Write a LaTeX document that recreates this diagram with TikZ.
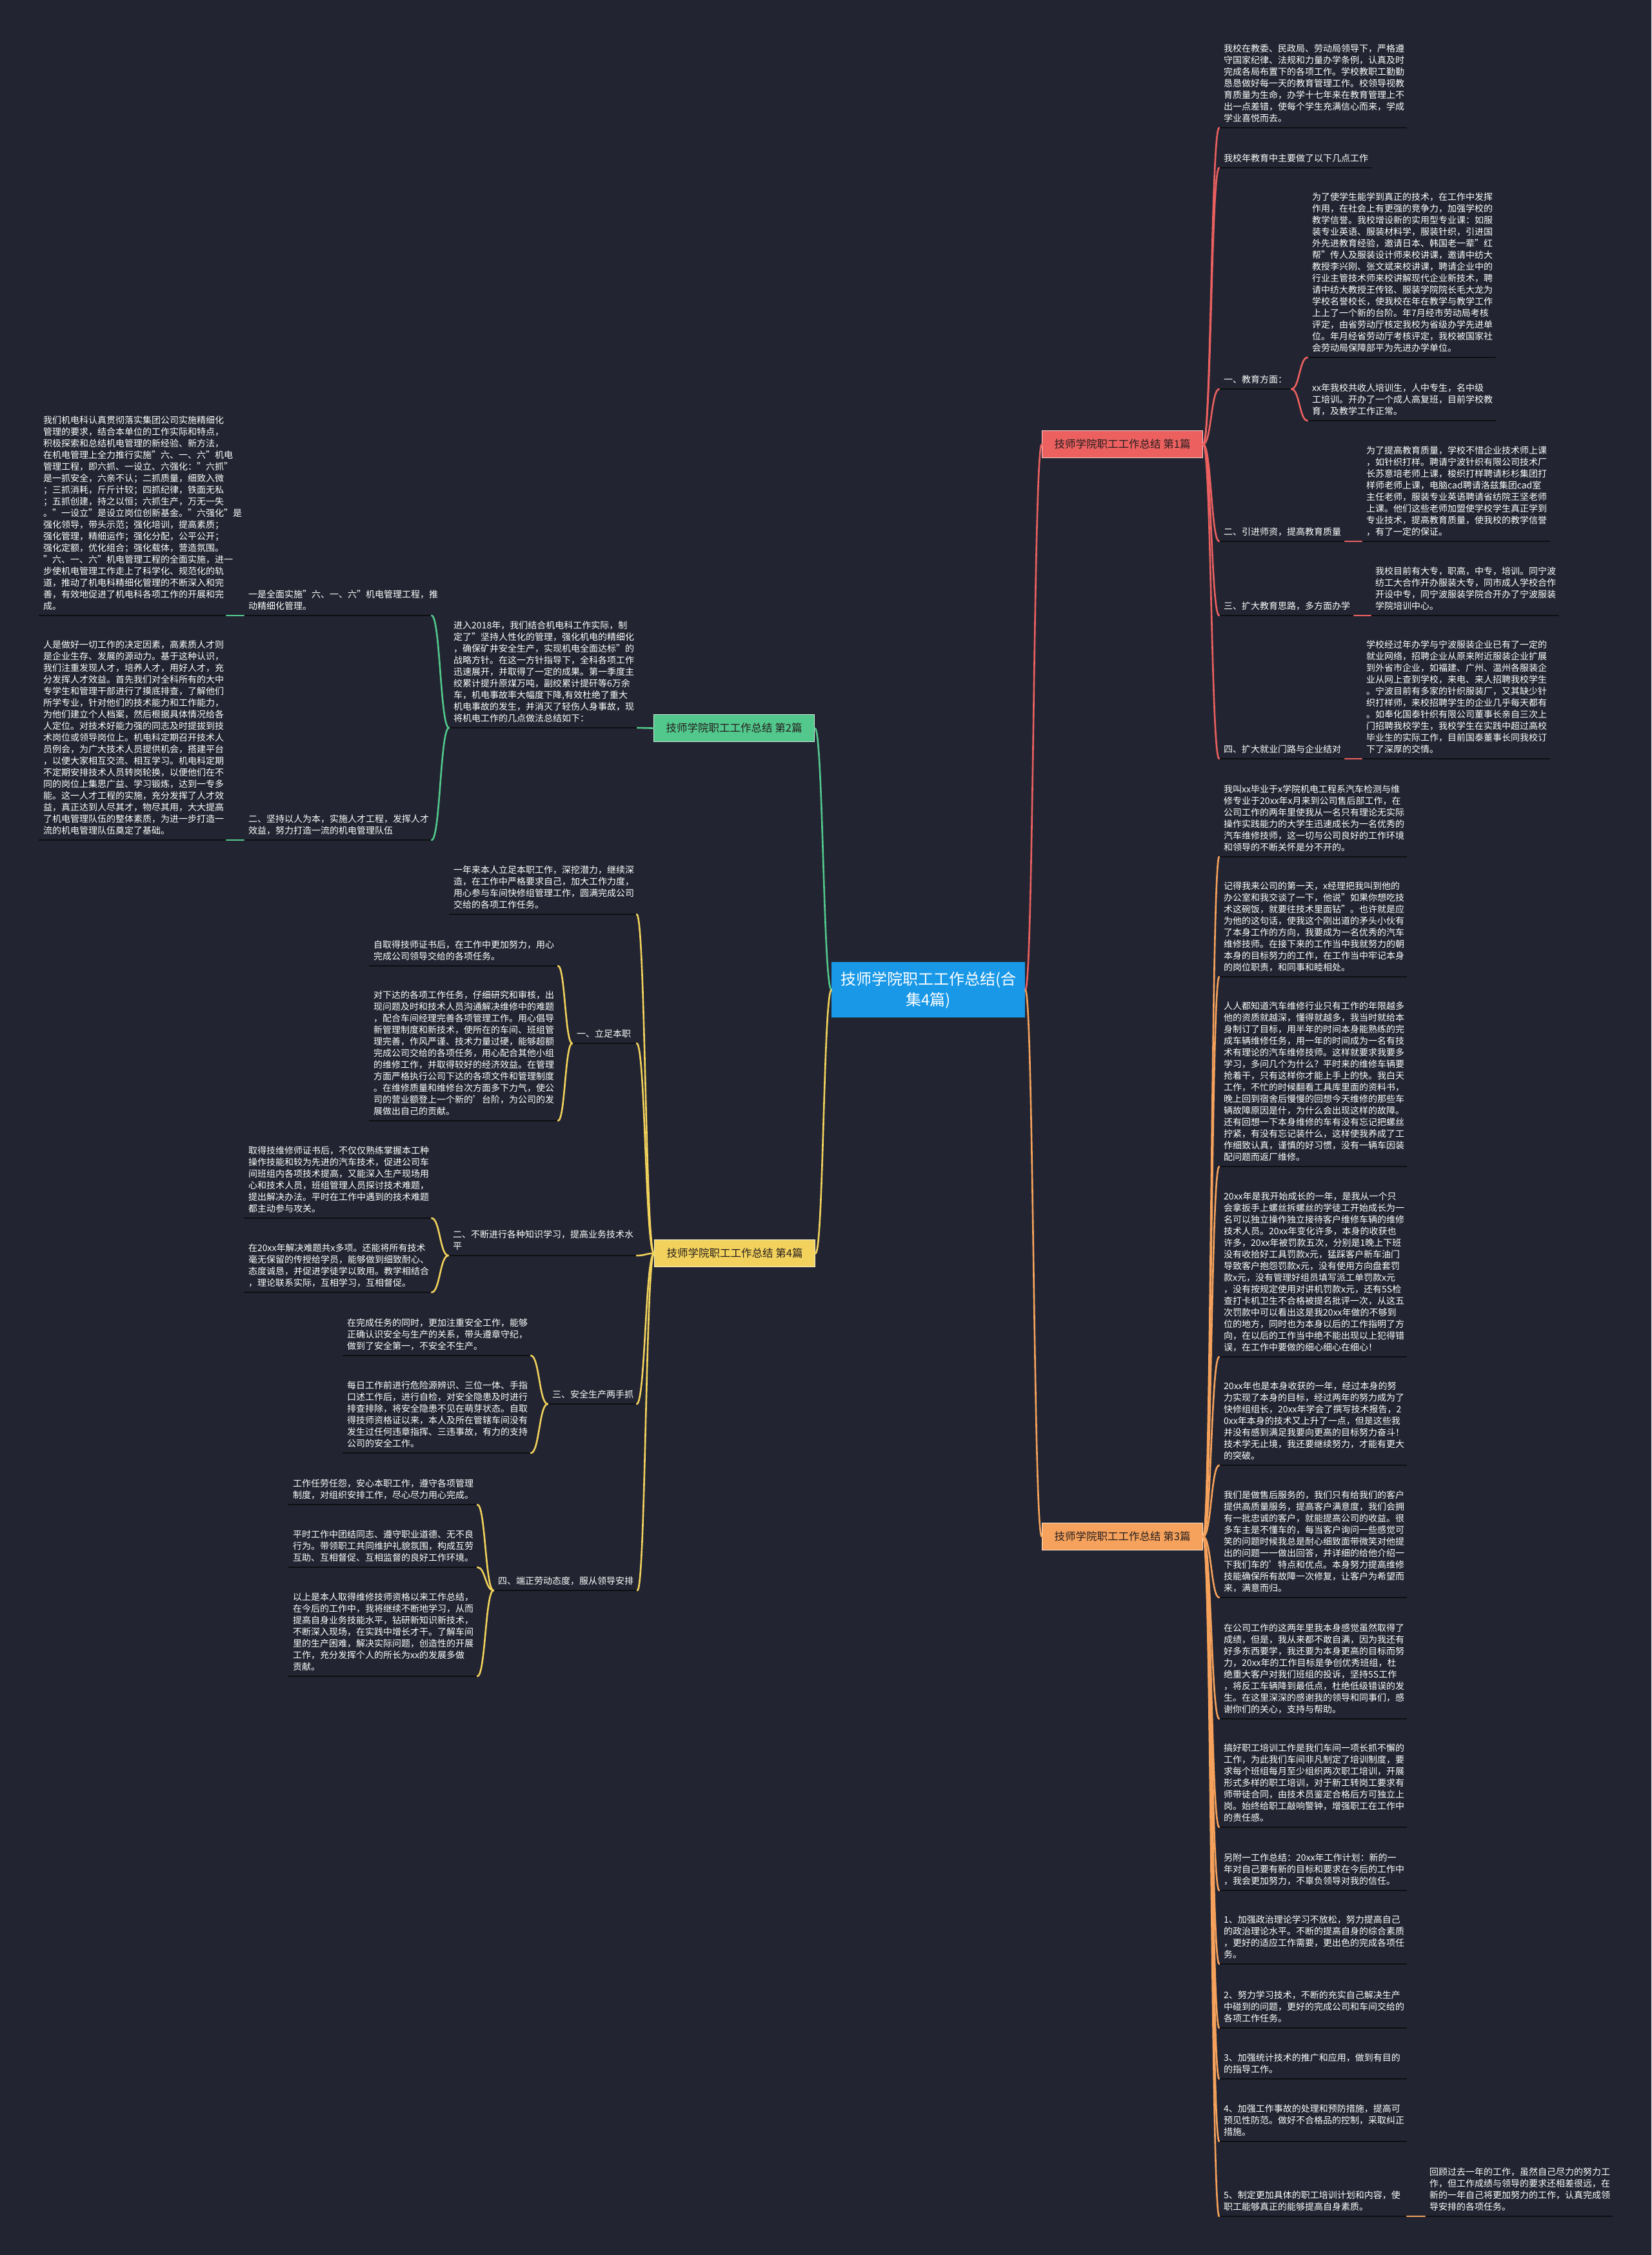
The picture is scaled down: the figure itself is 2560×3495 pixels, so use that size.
\documentclass[tikz,border=0pt]{standalone}
\usepackage{fontspec}
\setmainfont{Noto Sans CJK SC}
\usetikzlibrary{calc}
\definecolor{bg}{RGB}{34,37,49}
\definecolor{ulc}{RGB}{14,15,20}
\definecolor{cred}{RGB}{236,96,96}
\definecolor{cgreen}{RGB}{82,200,140}
\definecolor{cyellow}{RGB}{242,210,92}
\definecolor{corange}{RGB}{246,162,92}
\definecolor{cblue}{RGB}{25,152,232}
\definecolor{labtext}{RGB}{38,30,30}
\tikzset{
  leaftext/.style={anchor=south west, inner sep=0pt, align=left, text=white, font=\fontsize{14}{18}\selectfont},
  uline/.style={draw=ulc, line width=2.5pt},
  lab/.style={anchor=north west, draw=white!70!#1, fill=#1, line width=1.2pt, text=labtext, minimum width=249, minimum height=42, inner sep=0pt, font=\fontsize{16.5}{20}\selectfont},
  rootbox/.style={anchor=north west, fill=cblue, text=white, minimum width=300, minimum height=86, inner sep=0pt, align=center, font=\fontsize{24}{32}\selectfont},
  conn/.style={draw=#1, line width=2.6pt, line cap=round}
}
\newcommand\mmleaf[5]{%
  \coordinate (#1-l) at (#2,#3);
  \coordinate (#1-r) at (#2+#4,#3);
  \draw[uline] (#1-l) -- (#1-r);
  \node[leaftext] (#1) at (#2+7,#3-8) {#5};
}
\newcommand\mmcurve[3]{\draw[conn=#1] let \p1=(#2), \p2=(#3) in (\p1) .. controls ({(\x1+\x2)/2},\y1) and ({(\x1+\x2)/2},\y2) .. (\p2);}
\begin{document}
\begin{tikzpicture}[x=1pt,y=-1pt]
\fill[bg] (0,0) rectangle (2560,3495);
\useasboundingbox (0,0) rectangle (2560,3495);

% ---------- root and branch labels
\node[rootbox] (root) at (1289,1491) {技师学院职工工作总结(合\\集4篇)};
\node[lab=cred] (R1) at (1615,667) {技师学院职工工作总结 第1篇};
\node[lab=cgreen] (G2) at (1013,1107) {技师学院职工工作总结 第2篇};
\node[lab=cyellow] (Y4) at (1014,1921) {技师学院职工工作总结 第4篇};
\node[lab=corange] (O3) at (1615,2360) {技师学院职工工作总结 第3篇};

% ---------- branch 1 (red)
\mmleaf{A1}{1890}{198}{291}{我校在教委、民政局、劳动局领导下，严格遵\\守国家纪律、法规和力量办学条例，认真及时\\完成各局布置下的各项工作。学校教职工勤勤\\恳恳做好每一天的教育管理工作。校领导视教\\育质量为生命，办学十七年来在教育管理上不\\出一点差错，使每个学生充满信心而来，学成\\学业喜悦而去。}
\mmleaf{A2}{1890}{260}{236}{我校年教育中主要做了以下几点工作}
\mmleaf{A3}{1890}{603}{112}{一、教育方面：}
\mmleaf{A3a}{2027}{554}{292}{为了使学生能学到真正的技术，在工作中发挥\\作用，在社会上有更强的竞争力，加强学校的\\教学信誉。我校增设新的实用型专业课：如服\\装专业英语、服装材料学，服装针织，引进国\\外先进教育经验，邀请日本、韩国老一辈"红\\帮"传人及服装设计师来校讲课，邀请中纺大\\教授李兴刚、张文斌来校讲课，聘请企业中的\\行业主管技术师来校讲解现代企业新技术，聘\\请中纺大教授王传铭、服装学院院长毛大龙为\\学校名誉校长，使我校在年在教学与教学工作\\上上了一个新的台阶。年7月经市劳动局考核\\评定，由省劳动厅核定我校为省级办学先进单\\位。年月经省劳动厅考核评定，我校被国家社\\会劳动局保障部平为先进办学单位。}
\mmleaf{A3b}{2027}{652}{292}{xx年我校共收人培训生，人中专生，名中级\\工培训。开办了一个成人高复班，目前学校教\\育，及教学工作正常。}
\mmleaf{A4}{1890}{839}{195}{二、引进师资，提高教育质量}
\mmleaf{A4a}{2111}{839}{292}{为了提高教育质量，学校不惜企业技术师上课\\，如针织打样。聘请宁波针织有限公司技术厂\\长苏意培老师上课，梭织打样聘请杉杉集团打\\样师老师上课，电脑cad聘请洛兹集团cad室\\主任老师，服装专业英语聘请省纺院王坚老师\\上课。他们这些老师加盟使学校学生真正学到\\专业技术，提高教育质量，使我校的教学信誉\\，有了一定的保证。}
\mmleaf{A5}{1890}{954}{209}{三、扩大教育思路，多方面办学}
\mmleaf{A5a}{2125}{954}{292}{我校目前有大专，职高，中专，培训。同宁波\\纺工大合作开办服装大专，同市成人学校合作\\开设中专，同宁波服装学院合开办了宁波服装\\学院培训中心。}
\mmleaf{A6}{1890}{1176}{195}{四、扩大就业门路与企业结对}
\mmleaf{A6a}{2111}{1176}{292}{学校经过年办学与宁波服装企业已有了一定的\\就业网络，招聘企业从原来附近服装企业扩展\\到外省市企业，如福建、广州、温州各服装企\\业从网上查到学校，来电、来人招聘我校学生\\。宁波目前有多家的针织服装厂，又其缺少针\\织打样师，来校招聘学生的企业几乎每天都有\\。如奉化国泰针织有限公司董事长亲自三次上\\门招聘我校学生，我校学生在实践中超过高校\\毕业生的实际工作，目前国泰董事长同我校订\\下了深厚的交情。}

% ---------- branch 3 (orange)
\mmleaf{C1}{1890}{1328}{291}{我叫xx毕业于x学院机电工程系汽车检测与维\\修专业于20xx年x月来到公司售后部工作，在\\公司工作的两年里使我从一名只有理论无实际\\操作实践能力的大学生迅速成长为一名优秀的\\汽车维修技师，这一切与公司良好的工作环境\\和领导的不断关怀是分不开的。}
\mmleaf{C2}{1890}{1514}{291}{记得我来公司的第一天，x经理把我叫到他的\\办公室和我交谈了一下，他说"如果你想吃技\\术这碗饭，就要往技术里面钻"。也许就是应\\为他的这句话，使我这个刚出道的矛头小伙有\\了本身工作的方向，我要成为一名优秀的汽车\\维修技师。在接下来的工作当中我就努力的朝\\本身的目标努力的工作，在工作当中牢记本身\\的岗位职责，和同事和睦相处。}
\mmleaf{C3}{1890}{1808}{291}{人人都知道汽车维修行业只有工作的年限越多\\他的资质就越深，懂得就越多，我当时就给本\\身制订了目标，用半年的时间本身能熟练的完\\成车辆维修任务，用一年的时间成为一名有技\\术有理论的汽车维修技师。这样就要求我要多\\学习，多问几个为什么？平时来的维修车辆要\\抢着干，只有这样你才能上手上的快。我白天\\工作，不忙的时候翻看工具库里面的资料书，\\晚上回到宿舍后慢慢的回想今天维修的那些车\\辆故障原因是什，为什么会出现这样的故障。\\还有回想一下本身维修的车有没有忘记把螺丝\\拧紧，有没有忘记装什么，这样使我养成了工\\作细致认真，谨慎的好习惯，没有一辆车因装\\配问题而返厂维修。}
\mmleaf{C4}{1890}{2103}{291}{20xx年是我开始成长的一年，是我从一个只\\会拿扳手上螺丝拆螺丝的学徒工开始成长为一\\名可以独立操作独立接待客户维修车辆的维修\\技术人员。20xx年变化许多，本身的收获也\\许多，20xx年被罚款五次，分别是1晚上下班\\没有收拾好工具罚款x元，猛踩客户新车油门\\导致客户抱怨罚款x元，没有使用方向盘套罚\\款x元，没有管理好组员填写派工单罚款x元\\，没有按规定使用对讲机罚款x元，还有5S检\\查打卡机卫生不合格被提名批评一次，从这五\\次罚款中可以看出这是我20xx年做的不够到\\位的地方，同时也为本身以后的工作指明了方\\向，在以后的工作当中绝不能出现以上犯得错\\误，在工作中要做的细心细心在细心！}
\mmleaf{C5}{1890}{2271}{291}{20xx年也是本身收获的一年，经过本身的努\\力实现了本身的目标，经过两年的努力成为了\\快修组组长，20xx年学会了撰写技术报告，2\\0xx年本身的技术又上升了一点，但是这些我\\并没有感到满足我要向更高的目标努力奋斗！\\技术学无止境，我还要继续努力，才能有更大\\的突破。}
\mmleaf{C6}{1890}{2476}{291}{我们是做售后服务的，我们只有给我们的客户\\提供高质量服务，提高客户满意度，我们会拥\\有一批忠诚的客户，就能提高公司的收益。很\\多车主是不懂车的，每当客户询问一些感觉可\\笑的问题时候我总是耐心细致面带微笑对他提\\出的问题一一做出回答，并详细的给他介绍一\\下我们车的'特点和优点。本身努力提高维修\\技能确保所有故障一次修复，让客户为希望而\\来，满意而归。}
\mmleaf{C7}{1890}{2664}{291}{在公司工作的这两年里我本身感觉虽然取得了\\成绩，但是，我从来都不敢自满，因为我还有\\好多东西要学，我还要为本身更高的目标而努\\力，20xx年的工作目标是争创优秀班组，杜\\绝重大客户对我们班组的投诉，坚持5S工作\\，将反工车辆降到最低点，杜绝低级错误的发\\生。在这里深深的感谢我的领导和同事们，感\\谢你们的关心，支持与帮助。}
\mmleaf{C8}{1890}{2832}{291}{搞好职工培训工作是我们车间一项长抓不懈的\\工作，为此我们车间非凡制定了培训制度，要\\求每个班组每月至少组织两次职工培训，开展\\形式多样的职工培训，对于新工转岗工要求有\\师带徒合同，由技术员鉴定合格后方可独立上\\岗。始终给职工敲响警钟，增强职工在工作中\\的责任感。}
\mmleaf{C9}{1890}{2930}{291}{另附一工作总结：20xx年工作计划：新的一\\年对自己要有新的目标和要求在今后的工作中\\，我会更加努力，不辜负领导对我的信任。}
\mmleaf{C10}{1890}{3044}{291}{1、加强政治理论学习不放松，努力提高自己\\的政治理论水平。不断的提高自身的综合素质\\，更好的适应工作需要，更出色的完成各项任\\务。}
\mmleaf{C11}{1890}{3143}{291}{2、努力学习技术，不断的充实自己解决生产\\中碰到的问题，更好的完成公司和车间交给的\\各项工作任务。}
\mmleaf{C12}{1890}{3222}{291}{3、加强统计技术的推广和应用，做到有目的\\的指导工作。}
\mmleaf{C13}{1890}{3319}{291}{4、加强工作事故的处理和预防措施，提高可\\预见性防范。做好不合格品的控制，采取纠正\\措施。}
\mmleaf{C14}{1890}{3435}{291}{5、制定更加具体的职工培训计划和内容，使\\职工能够真正的能够提高自身素质。}
\mmleaf{C14a}{2209}{3435}{291}{回顾过去一年的工作，虽然自己尽力的努力工\\作，但工作成绩与领导的要求还相差很远，在\\新的一年自己将更加努力的工作，认真完成领\\导安排的各项任务。}

% ---------- branch 2 (green)
\mmleaf{B1}{696}{1128}{292}{进入2018年，我们结合机电科工作实际，制\\定了"坚持人性化的管理，强化机电的精细化\\，确保矿井安全生产，实现机电全面达标"的\\战略方针。在这一方针指导下，全科各项工作\\迅速展开，并取得了一定的成果。第一季度主\\绞累计提升原煤万吨，副绞累计提矸等6万余\\车，机电事故率大幅度下降,有效杜绝了重大\\机电事故的发生，并消灭了轻伤人身事故，现\\将机电工作的几点做法总结如下：}
\mmleaf{B2}{378}{954}{291}{一是全面实施"六、一、六"机电管理工程，推\\动精细化管理。}
\mmleaf{B3}{378}{1302}{291}{二、坚持以人为本，实施人才工程，发挥人才\\效益，努力打造一流的机电管理队伍}
\mmleaf{B2a}{60}{954}{291}{我们机电科认真贯彻落实集团公司实施精细化\\管理的要求，结合本单位的工作实际和特点，\\积极探索和总结机电管理的新经验、新方法，\\在机电管理上全力推行实施"六、一、六"机电\\管理工程，即六抓、一设立、六强化："六抓"\\是一抓安全，六亲不认；二抓质量，细致入微\\；三抓消耗，斤斤计较；四抓纪律，铁面无私\\；五抓创建，持之以恒；六抓生产，万无一失\\。"一设立"是设立岗位创新基金。"六强化"是\\强化领导，带头示范；强化培训，提高素质；\\强化管理，精细运作；强化分配，公平公开；\\强化定额，优化组合；强化载体，营造氛围。\\"六、一、六"机电管理工程的全面实施，进一\\步使机电管理工作走上了科学化、规范化的轨\\道，推动了机电科精细化管理的不断深入和完\\善，有效地促进了机电科各项工作的开展和完\\成。}
\mmleaf{B3a}{60}{1302}{291}{人是做好一切工作的决定因素，高素质人才则\\是企业生存、发展的源动力。基于这种认识，\\我们注重发现人才，培养人才，用好人才，充\\分发挥人才效益。首先我们对全科所有的大中\\专学生和管理干部进行了摸底排查，了解他们\\所学专业，针对他们的技术能力和工作能力，\\为他们建立个人档案，然后根据具体情况给各\\人定位。对技术好能力强的同志及时提拔到技\\术岗位或领导岗位上。机电科定期召开技术人\\员例会，为广大技术人员提供机会，搭建平台\\，以便大家相互交流、相互学习。机电科定期\\不定期安排技术人员转岗轮换，以便他们在不\\同的岗位上集思广益、学习锻炼，达到一专多\\能。这一人才工程的实施，充分发挥了人才效\\益，真正达到人尽其才，物尽其用，大大提高\\了机电管理队伍的整体素质，为进一步打造一\\流的机电管理队伍奠定了基础。}

% ---------- branch 4 (yellow)
\mmleaf{D0}{696}{1417}{291}{一年来本人立足本职工作，深挖潜力，继续深\\造，在工作中严格要求自己，加大工作力度，\\用心参与车间快修组管理工作，圆满完成公司\\交给的各项工作任务。}
\mmleaf{D1}{887}{1617}{100}{一、立足本职}
\mmleaf{D1a}{572}{1497}{293}{自取得技师证书后，在工作中更加努力，用心\\完成公司领导交给的各项任务。}
\mmleaf{D1b}{572}{1737}{293}{对下达的各项工作任务，仔细研究和审核，出\\现问题及时和技术人员沟通解决维修中的难题\\，配合车间经理完善各项管理工作。用心倡导\\新管理制度和新技术，使所在的车间、班组管\\理完善，作风严谨、技术力量过硬，能够超额\\完成公司交给的各项任务，用心配合其他小组\\的维修工作，并取得较好的经济效益。在管理\\方面严格执行公司下达的各项文件和管理制度\\。在维修质量和维修台次方面多下力气，使公\\司的营业额登上一个新的'台阶，为公司的发\\展做出自己的贡献。}
\mmleaf{D2}{695}{1946}{292}{二、不断进行各种知识学习，提高业务技术水\\平}
\mmleaf{D2a}{378}{1888}{291}{取得技维修师证书后，不仅仅熟练掌握本工种\\操作技能和较为先进的汽车技术，促进公司车\\间班组内各项技术提高，又能深入生产现场用\\心和技术人员，班组管理人员探讨技术难题，\\提出解决办法。平时在工作中遇到的技术难题\\都主动参与攻关。}
\mmleaf{D2b}{378}{2003}{291}{在20xx年解决难题共x多项。还能将所有技术\\毫无保留的传授给学员，能够做到细致耐心、\\态度诚恳，并促进学徒学以致用。教学相结合\\，理论联系实际，互相学习，互相督促。}
\mmleaf{D3}{849}{2176}{138}{三、安全生产两手抓}
\mmleaf{D3a}{531}{2101}{292}{在完成任务的同时，更加注重安全工作，能够\\正确认识安全与生产的关系，带头遵章守纪，\\做到了安全第一，不安全不生产。}
\mmleaf{D3b}{531}{2252}{292}{每日工作前进行危险源辨识、三位一体、手指\\口述工作后，进行自检，对安全隐患及时进行\\排查排除，将安全隐患不见在萌芽状态。自取\\得技师资格证以来，本人及所在管辖车间没有\\发生过任何违章指挥、三违事故，有力的支持\\公司的安全工作。}
\mmleaf{D4}{765}{2465}{223}{四、端正劳动态度，服从领导安排}
\mmleaf{D4a}{447}{2332}{293}{工作任劳任怨，安心本职工作，遵守各项管理\\制度，对组织安排工作，尽心尽力用心完成。}
\mmleaf{D4b}{447}{2429}{293}{平时工作中团结同志、遵守职业道德、无不良\\行为。带领职工共同维护礼貌氛围，构成互劳\\互助、互相督促、互相监督的良好工作环境。}
\mmleaf{D4c}{447}{2598}{293}{以上是本人取得维修技师资格以来工作总结，\\在今后的工作中，我将继续不断地学习，从而\\提高自身业务技能水平，钻研新知识新技术，\\不断深入现场，在实践中增长才干。了解车间\\里的生产困难，解决实际问题，创造性的开展\\工作，充分发挥个人的所长为xx的发展多做\\贡献。}

% ---------- connectors
\mmcurve{cred}{root.east}{R1.west}
\mmcurve{corange}{root.east}{O3.west}
\mmcurve{cgreen}{root.west}{G2.east}
\mmcurve{cyellow}{root.west}{Y4.east}

\foreach \c in {A1,A2,A3,A4,A5,A6} {\mmcurve{cred}{R1.east}{\c-l}}
\mmcurve{cred}{A3-r}{A3a-l}
\mmcurve{cred}{A3-r}{A3b-l}
\draw[conn=cred] (A4-r) -- (A4a-l);
\draw[conn=cred] (A5-r) -- (A5a-l);
\draw[conn=cred] (A6-r) -- (A6a-l);

\foreach \c in {C1,C2,C3,C4,C5,C6,C7,C8,C9,C10,C11,C12,C13,C14} {\mmcurve{corange}{O3.east}{\c-l}}
\draw[conn=corange] (C14-r) -- (C14a-l);

\draw[conn=cgreen] (G2.west) -- (B1-r);
\mmcurve{cgreen}{B1-l}{B2-r}
\mmcurve{cgreen}{B1-l}{B3-r}
\draw[conn=cgreen] (B2-l) -- (B2a-r);
\draw[conn=cgreen] (B3-l) -- (B3a-r);

\foreach \c in {D0,D1,D2,D3,D4} {\mmcurve{cyellow}{Y4.west}{\c-r}}
\mmcurve{cyellow}{D1-l}{D1a-r}
\mmcurve{cyellow}{D1-l}{D1b-r}
\mmcurve{cyellow}{D2-l}{D2a-r}
\mmcurve{cyellow}{D2-l}{D2b-r}
\mmcurve{cyellow}{D3-l}{D3a-r}
\mmcurve{cyellow}{D3-l}{D3b-r}
\mmcurve{cyellow}{D4-l}{D4a-r}
\mmcurve{cyellow}{D4-l}{D4b-r}
\mmcurve{cyellow}{D4-l}{D4c-r}
\end{tikzpicture}
\end{document}
